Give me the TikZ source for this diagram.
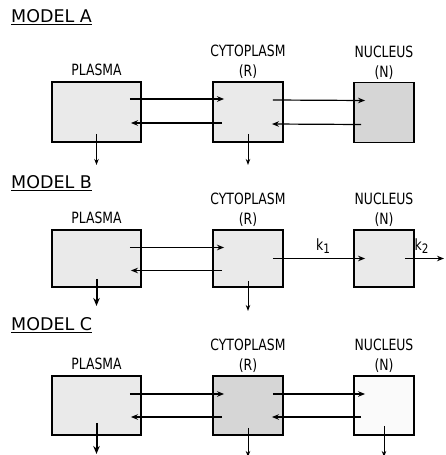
\documentclass[tikz,border=0pt]{standalone}
\usepackage{fontspec}
\newfontfamily\lblfont[FakeStretch=0.8]{DejaVu Sans}
\newfontfamily\titlefont{DejaVu Sans}
\usepackage{tikz}
\usetikzlibrary{arrows.meta,positioning,calc}
\definecolor{stipple}{RGB}{234,234,234}
\definecolor{stippledark}{RGB}{214,214,214}
\newcommand{\ksub}[1]{k\raisebox{-3pt}{\fontsize{13}{13}\selectfont #1}}

\begin{document}
\begin{tikzpicture}[
  x=1pt, y=-1pt,
  font=\lblfont\fontsize{15.5}{17}\selectfont,
  compart/.style={draw, line width=1.9pt, fill=stipple, minimum height=#1},
  compart/.default=60pt,
  plasmabox/.style={compart, minimum width=89pt},
  cytobox/.style={compart, minimum width=70pt},
  nucbox/.style={compart, minimum width=60pt},
  title/.style={anchor=west, inner sep=0pt, font=\titlefont\fontsize{17.5}{19}\selectfont},
  lbl/.style={align=center, inner sep=1pt, font=\lblfont\fontsize{15.5}{20}\selectfont},
  arr/.style={-{Stealth[length=7pt,width=5.5pt]}, line width=1.2pt},
  drain/.style={-{Stealth[length=6pt,width=4.5pt]}, line width=0.9pt},
  bigdrain/.style={-{Stealth[length=8pt,width=6.5pt]}, line width=2pt}]
\useasboundingbox (0,0) rectangle (445,455);

% Model A
\node[title] (tA) at (11,17) {\underline{MODEL A}};
\node[plasmabox] (PA) at (96.5,112) {};
\node[cytobox] (CA) at (248,112) {};
\node[nucbox, fill=stippledark] (NA) at (384,112.5) {};
\node[lbl, above=4pt of PA] (lPA) {PLASMA};
\node[lbl, above=1pt of CA] (lCA) {CYTOPLASM\\(R)};
\node[lbl, above=1pt of NA] (lNA) {NUCLEUS\\(N)};
\draw[arr] ([xshift=-12pt,yshift=13pt]PA.east) -- ([xshift=12pt,yshift=13pt]CA.west);
\draw[arr] ([xshift=10pt,yshift=-11pt]CA.west) -- ([xshift=-11pt,yshift=-11pt]PA.east);
\draw[arr] ([xshift=-11pt,yshift=12pt]CA.east) -- ([xshift=12pt,yshift=12pt]NA.west);
\draw[arr] ([xshift=8pt,yshift=-12pt]NA.west) -- ([xshift=-12pt,yshift=-12pt]CA.east);
\draw[drain] ([yshift=9pt]PA.south) -- ++(0,31);
\draw[drain] ([yshift=9pt]CA.south) -- ++(0,31);

% Model B
\node[title] (tB) at (11,183) {\underline{MODEL B}};
\node[plasmabox, compart=57pt] (PB) at (96.5,258.5) {};
\node[cytobox, compart=57pt] (CB) at (248,258.5) {};
\node[nucbox, compart=57pt] (NB) at (384,258.5) {};
\node[lbl, above=4pt of PB] (lPB) {PLASMA};
\node[lbl, above=1pt of CB] (lCB) {CYTOPLASM\\(R)};
\node[lbl, above=1pt of NB] (lNB) {NUCLEUS\\(N)};
\draw[arr] ([xshift=-12pt,yshift=11pt]PB.east) -- ([xshift=12pt,yshift=11pt]CB.west);
\draw[arr] ([xshift=10pt,yshift=-12pt]CB.west) -- ([xshift=-11pt,yshift=-12pt]PB.east);
\draw[arr] ([xshift=-11pt]CB.east) -- node[above=1pt, xshift=4pt] (k1) {\ksub{1}} ([xshift=12pt]NB.west);
\coordinate (outB) at (444,258.5);
\draw[arr] ([xshift=-10pt]NB.east) -- node[above=1pt, xshift=-3pt] (k2) {\ksub{2}} (outB);
\draw[bigdrain] ([yshift=9pt]PB.south) -- ++(0,27);
\draw[drain] ([yshift=7pt]CB.south) -- ++(0,30);

% Model C
\node[title] (tC) at (11,325) {\underline{MODEL C}};
\node[plasmabox, compart=59pt] (PC) at (96.5,405.5) {};
\node[cytobox, compart=59pt, fill=stippledark] (CC) at (248,405.5) {};
\node[nucbox, compart=59pt, fill=white!96!gray] (NC) at (384,405.5) {};
\node[lbl, above=4pt of PC] (lPC) {PLASMA};
\node[lbl, above=1pt of CC] (lCC) {CYTOPLASM\\(R)};
\node[lbl, above=1pt of NC] (lNC) {NUCLEUS\\(N)};
\draw[arr] ([xshift=-12pt,yshift=11.5pt]PC.east) -- ([xshift=12pt,yshift=11.5pt]CC.west);
\draw[arr] ([xshift=10pt,yshift=-11.5pt]CC.west) -- ([xshift=-11pt,yshift=-11.5pt]PC.east);
\draw[arr] ([xshift=-11pt,yshift=11.5pt]CC.east) -- ([xshift=12pt,yshift=11.5pt]NC.west);
\draw[arr] ([xshift=8pt,yshift=-11.5pt]NC.west) -- ([xshift=-12pt,yshift=-11.5pt]CC.east);
\draw[bigdrain] ([yshift=13pt]PC.south) -- ++(0,31);
\draw[drain] ([yshift=8pt]CC.south) -- ++(0,29);
\draw[drain] ([yshift=10pt]NC.south) -- ++(0,31);
\end{tikzpicture}
\end{document}
